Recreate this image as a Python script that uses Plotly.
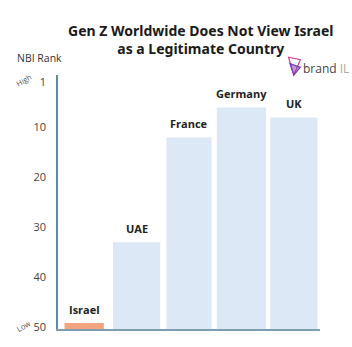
import plotly.graph_objects as go

countries = ["Israel", "UAE", "France", "Germany", "UK"]
nbi_rank = [49.2, 33, 12, 6, 8]
bar_colors = ["#f4a47e", "#dce8f6", "#dce8f6", "#dce8f6", "#dce8f6"]
bar_widths = [0.75, 0.9, 0.86, 0.94, 0.9]
tick_vals = [1, 10, 20, 30, 40, 50]

axis_bottom = 50.4
axis_top = -0.5

fig = go.Figure()
fig.add_trace(go.Bar(
    x=countries,
    y=[r - axis_bottom for r in nbi_rank],
    base=[axis_bottom] * len(countries),
    marker=dict(color=bar_colors, line=dict(width=0)),
    width=bar_widths,
    hoverinfo="skip",
))

for c, r in zip(countries, nbi_rank):
    fig.add_annotation(x=c, y=r, text="<b>" + c + "</b>", showarrow=False,
                       yanchor="bottom", yshift=4,
                       font=dict(family="Open Sans", size=11, color="#222"))

fig.update_layout(
    width=352, height=347,
    margin=dict(l=58, r=32, t=75, b=18),
    paper_bgcolor="white", plot_bgcolor="white",
    showlegend=False,
    bargap=0.1,
    xaxis=dict(showticklabels=False, showline=True, linecolor="#7f9db0",
               linewidth=1.5, ticks="", showgrid=False, zeroline=False,
               range=[-0.5, 4.5]),
    yaxis=dict(range=[axis_bottom, axis_top], tickvals=tick_vals,
               showline=True, linecolor="#5f8aa3", linewidth=1.5,
               showgrid=False, zeroline=False, ticks="",
               ticklabelstandoff=8,
               tickfont=dict(family="Open Sans", size=11, color="#444")),
)

# title
fig.add_annotation(xref="paper", yref="paper", x=0.545, y=1.14,
                   xanchor="center", yanchor="middle", showarrow=False,
                   text="<b>Gen Z Worldwide Does Not View Israel<br>as a Legitimate Country</b>",
                   font=dict(family="Noto Sans", size=14, color="#1a1a1a"))

fig.add_annotation(xref="paper", yref="paper", x=-0.07, y=1.067,
                   text="NBI Rank", showarrow=False, xanchor="center",
                   yanchor="middle",
                   font=dict(family="Open Sans", size=10.5, color="#333"))
fig.add_annotation(xref="paper", y=0.6, x=-0.175, yref="y", text="High",
                   showarrow=False, textangle=-30,
                   font=dict(family="Open Sans", size=7.5, color="#555"))
fig.add_annotation(xref="paper", y=49.7, x=-0.175, yref="y", text="Low",
                   showarrow=False, textangle=-30,
                   font=dict(family="Open Sans", size=7.5, color="#555"))

# brandIL logo
fig.add_annotation(xref="paper", yref="paper", x=1.12, y=1.025,
                   xanchor="right", yanchor="middle",
                   text="<span style='color:#444'>brand </span><span style='color:#aaa'>IL</span>",
                   showarrow=False,
                   font=dict(family="Open Sans", size=12))
fig.add_shape(type="path", xref="paper", yref="paper",
              path="M 0.88 1.07 L 0.925 1.06 L 0.9 1.0 Z",
              line=dict(color="#d0408f", width=1.2), fillcolor="rgba(0,0,0,0)")
fig.add_shape(type="path", xref="paper", yref="paper",
              path="M 0.885 1.045 L 0.925 1.03 L 0.9 1.0 Z",
              line=dict(color="#7a3fb0", width=1.2), fillcolor="rgba(122,63,176,0.5)")

fig.write_html("out.html")
